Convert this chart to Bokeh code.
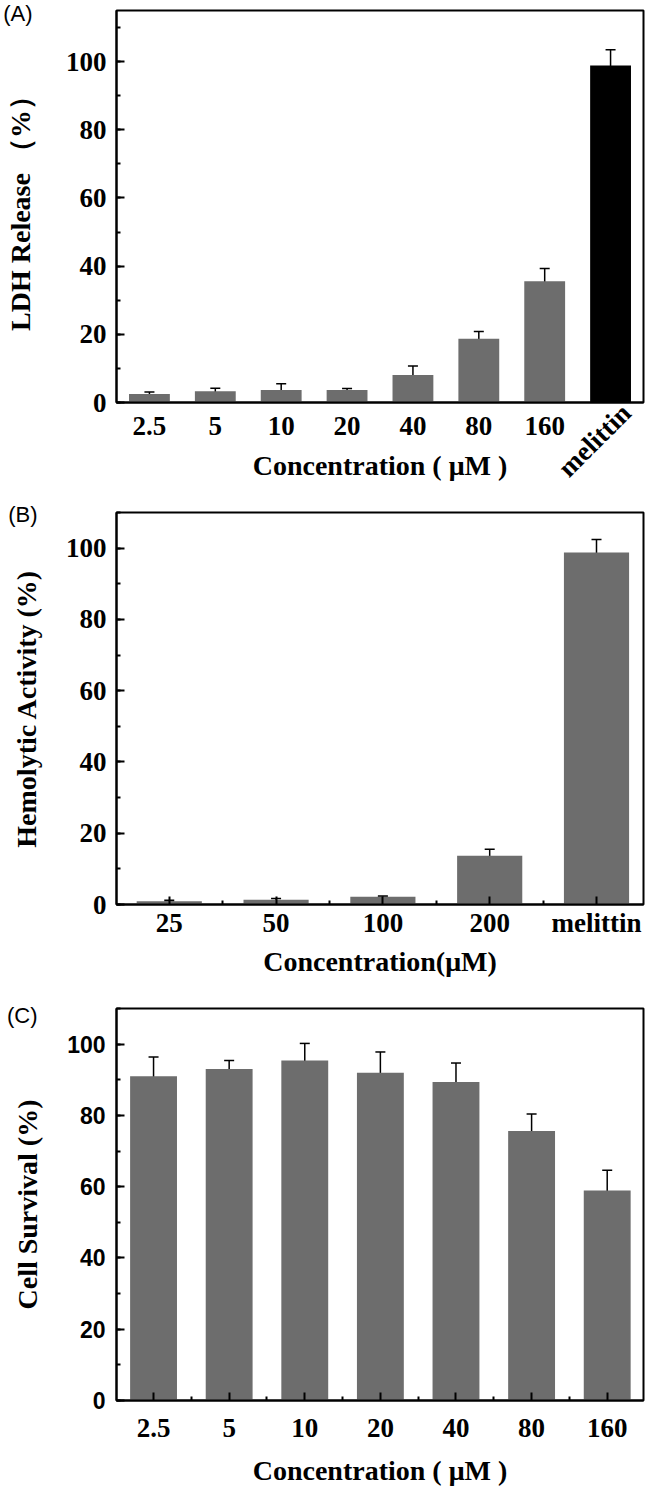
import math
from bokeh.plotting import figure
from bokeh.layouts import column
from bokeh.models import (ColumnDataSource, Whisker, TeeHead, Range1d,
                          FixedTicker, SingleIntervalTicker, LinearAxis)
from bokeh.embed import file_html
from bokeh.resources import INLINE

# ---------------- data ----------------
a_cats = ["2.5", "5", "10", "20", "40", "80", "160", "melittin"]
a_vals = [2.5, 3.3, 3.7, 3.7, 8.1, 18.7, 35.6, 98.9]
a_errs = [0.6, 0.9, 1.8, 0.4, 2.6, 2.1, 3.7, 4.6]
a_colors = ["#6d6d6d"] * 7 + ["#000000"]

b_cats = ["25", "50", "100", "200", "melittin"]
b_vals = [0.9, 1.3, 2.2, 13.7, 98.8]
b_errs = [0.3, 0.4, 0.2, 1.8, 3.6]

c_cats = ["2.5", "5", "10", "20", "40", "80", "160"]
c_vals = [91.0, 93.0, 95.4, 92.0, 89.4, 75.6, 58.9]
c_errs = [5.4, 2.4, 4.8, 5.8, 5.3, 4.8, 5.7]

SERIF = "Liberation Serif"
SANS = "Liberation Sans"
GRAY = "#6d6d6d"
W = 652


def style_text(ax, font, size, bold=True):
    ax.major_label_text_font = font
    ax.major_label_text_font_style = "bold" if bold else "normal"
    ax.major_label_text_font_size = size
    ax.major_label_text_color = "black"


def make_panel(cats, vals, errs, colors, height, top, bottom, left, right,
               ymax, ylabel, xlabel, tag, tag_y, tag_standoff, xr, bar_w,
               ylabel_standoff, ytick_standoff, xtick_standoff, xlabel_standoff,
               x_ticks=True, ytick_font=SERIF, ytick_size="27px",
               hide_last=False):
    xs = list(range(len(cats)))
    src = ColumnDataSource(dict(
        x=xs, top=vals,
        upper=[v + e for v, e in zip(vals, errs)],
        lower=[v - e for v, e in zip(vals, errs)],
        color=colors))
    p = figure(width=W, height=height, output_backend="svg", toolbar_location=None,
               x_range=Range1d(*xr), y_range=Range1d(0, ymax),
               min_border_left=left, min_border_right=right,
               min_border_top=top, min_border_bottom=bottom)
    p.vbar(x="x", top="top", width=bar_w, bottom=0, source=src,
           fill_color="color", line_color=None)
    p.add_layout(Whisker(base="x", upper="upper", lower="lower", source=src,
                         line_color="black", line_width=1.5,
                         upper_head=TeeHead(size=10, line_color="black", line_width=1.5),
                         lower_head=TeeHead(size=10, line_color="black", line_width=1.5)))
    p.grid.visible = False
    p.outline_line_color = "black"
    p.outline_line_width = 2
    p.background_fill_color = None
    p.border_fill_color = None

    # y axis
    ya = p.yaxis[0]
    ya.ticker = SingleIntervalTicker(interval=20, num_minor_ticks=2)
    ya.axis_line_width = 2
    ya.major_tick_in = 8
    ya.major_tick_out = 0
    ya.minor_tick_in = 4
    ya.minor_tick_out = 0
    ya.major_tick_line_width = 2
    ya.minor_tick_line_width = 2
    style_text(ya, ytick_font, ytick_size)
    ya.major_label_standoff = ytick_standoff
    ya.axis_label = ylabel
    ya.axis_label_text_font = SERIF
    ya.axis_label_text_font_style = "bold"
    ya.axis_label_text_font_size = "28px"
    ya.axis_label_text_color = "black"
    ya.axis_label_standoff = ylabel_standoff

    # panel tag, e.g. "(A)", as the single tick label of an extra left axis
    tag_axis = LinearAxis(ticker=FixedTicker(ticks=[tag_y]),
                          major_label_overrides={tag_y: tag},
                          axis_line_color=None, major_tick_line_color=None,
                          minor_tick_line_color=None, major_tick_in=0,
                          major_tick_out=0, minor_tick_in=0, minor_tick_out=0,
                          major_label_standoff=tag_standoff)
    style_text(tag_axis, SANS, "22px", bold=False)
    p.add_layout(tag_axis, "left")

    # x axis
    xa = p.xaxis[0]
    minors = [i + 0.5 for i in xs[:-1]]
    shown = xs[:-1] if hide_last else xs
    xa.ticker = FixedTicker(ticks=shown, minor_ticks=minors)
    xa.major_label_overrides = {i: cats[i] for i in shown}
    xa.axis_line_width = 2
    if x_ticks:
        xa.major_tick_in = 8
        xa.major_tick_out = 0
        xa.minor_tick_in = 4
        xa.minor_tick_out = 0
        xa.major_tick_line_width = 2
        xa.minor_tick_line_width = 2
    else:
        xa.major_tick_line_color = None
        xa.minor_tick_line_color = None
        xa.major_tick_in = 0
        xa.major_tick_out = 0
        xa.minor_tick_in = 0
        xa.minor_tick_out = 0
    style_text(xa, SERIF, "27px")
    xa.major_label_standoff = xtick_standoff
    xa.axis_label = xlabel
    xa.axis_label_text_font = SERIF
    xa.axis_label_text_font_style = "bold"
    xa.axis_label_text_font_size = "28px"
    xa.axis_label_text_color = "black"
    xa.axis_label_standoff = xlabel_standoff
    return p


# Panel A: page y 0..500, frame 10..402
pa = make_panel(a_cats, a_vals, a_errs, a_colors, height=500, top=10, bottom=98,
                left=112, right=3, ymax=115, ylabel="LDH Release （%）",
                xlabel="Concentration ( μM )", tag="(A)", tag_y=114.5,
                tag_standoff=-31, xr=(-0.5, 7.5), bar_w=0.62,
                ylabel_standoff=27, ytick_standoff=10, xtick_standoff=14,
                xlabel_standoff=12, x_ticks=False, hide_last=True)
# rotated "melittin" label: its own axis, pulled up next to the frame
mel_pos = len(a_cats) - 1 + 0.24
mel_axis = LinearAxis(ticker=FixedTicker(ticks=[mel_pos]),
                      major_label_overrides={mel_pos: a_cats[-1]},
                      major_label_orientation=math.pi / 4,
                      axis_line_color=None, major_tick_line_color=None,
                      minor_tick_line_color=None, major_tick_in=0, major_tick_out=0,
                      minor_tick_in=0, minor_tick_out=0,
                      major_label_standoff=-75)
style_text(mel_axis, SERIF, "27px")
pa.add_layout(mel_axis, "below")

# Panel B: page y 500..990, frame 512..904
b_colors = [GRAY] * len(b_cats)
pb = make_panel(b_cats, b_vals, b_errs, b_colors, height=490, top=12, bottom=86,
                left=112, right=9, ymax=110, ylabel="Hemolytic Activity (%)",
                xlabel="Concentration(μM)", tag="(B)", tag_y=109.4,
                tag_standoff=-30, xr=(-0.494, 4.44), bar_w=0.61,
                ylabel_standoff=21, ytick_standoff=10, xtick_standoff=3,
                xlabel_standoff=5, x_ticks=True)

# Panel C: page y 990..1494, frame 1008..1400
c_colors = [GRAY] * len(c_cats)
pc = make_panel(c_cats, c_vals, c_errs, c_colors, height=504, top=18, bottom=94,
                left=112, right=4, ymax=110, ylabel="Cell Survival (%)",
                xlabel="Concentration ( μM )", tag="(C)", tag_y=108.1,
                tag_standoff=-28, xr=(-0.49, 6.48), bar_w=0.62,
                ylabel_standoff=21, ytick_standoff=11, xtick_standoff=18,
                xlabel_standoff=15, x_ticks=True, ytick_font=SANS,
                ytick_size="23px")

layout = column(pa, pb, pc, spacing=0)
open("out.html", "w").write(file_html(layout, INLINE))
